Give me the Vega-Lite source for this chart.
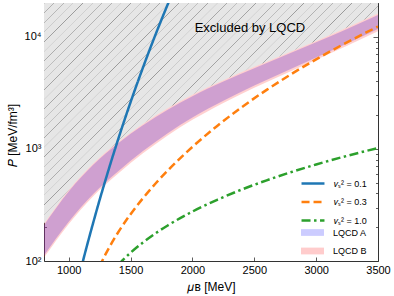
{
  "$schema": "https://vega.github.io/schema/vega-lite/v6.json",
  "width": 334,
  "height": 258,
  "autosize": {"type": "none"},
  "padding": {"left": 44, "top": 3, "right": 16, "bottom": 35},
  "background": "white",
  "config": {
    "font": "Liberation Sans",
    "view": {"stroke": "#333333", "strokeWidth": 1},
    "axis": {"domain": false, "grid": false, "tickColor": "#333333", "tickWidth": 0.8, "labelFont": "Liberation Sans", "labelFontSize": 11, "labelColor": "#000000", "titleFont": "Liberation Sans", "titleFontSize": 12, "titleFontWeight": "normal", "titleColor": "#000000"},
    "legend": {"labelFont": "Liberation Sans", "labelFontSize": 9, "labelColor": "#000000", "labelLimit": 200}
  },
  "datasets": {
    "band": [
      {"mu": 800, "Alo": 112.2, "Ahi": 208.9, "Blo": 107.2, "Bhi": 214.8},
      {"mu": 1000, "Alo": 223.9, "Ahi": 416.9, "Blo": 213.8, "Bhi": 428.6},
      {"mu": 1200, "Alo": 398.1, "Ahi": 724.4, "Blo": 380.2, "Bhi": 744.7},
      {"mu": 1400, "Alo": 631.0, "Ahi": 1122, "Blo": 602.6, "Bhi": 1153},
      {"mu": 1600, "Alo": 955.0, "Ahi": 1622, "Blo": 912.0, "Bhi": 1667},
      {"mu": 1800, "Alo": 1380, "Ahi": 2239, "Blo": 1318, "Bhi": 2302},
      {"mu": 2000, "Alo": 1905, "Ahi": 2951, "Blo": 1819, "Bhi": 3034},
      {"mu": 2250, "Alo": 2692, "Ahi": 3981, "Blo": 2571, "Bhi": 4093},
      {"mu": 2500, "Alo": 3673, "Ahi": 5248, "Blo": 3508, "Bhi": 5395},
      {"mu": 2750, "Alo": 4898, "Ahi": 6839, "Blo": 4678, "Bhi": 7030},
      {"mu": 3000, "Alo": 6531, "Ahi": 8913, "Blo": 6237, "Bhi": 9163},
      {"mu": 3250, "Alo": 8710, "Ahi": 11749, "Blo": 8318, "Bhi": 12078},
      {"mu": 3500, "Alo": 11749, "Ahi": 15668, "Blo": 11220, "Bhi": 16107}
    ],
    "lines": [
      {"series": "𝑣ₛ² = 0.1", "mu": 1100, "P": 86},
      {"series": "𝑣ₛ² = 0.1", "mu": 1115, "P": 100},
      {"series": "𝑣ₛ² = 0.1", "mu": 1150, "P": 140.5},
      {"series": "𝑣ₛ² = 0.1", "mu": 1200, "P": 224},
      {"series": "𝑣ₛ² = 0.1", "mu": 1250, "P": 352},
      {"series": "𝑣ₛ² = 0.1", "mu": 1300, "P": 541},
      {"series": "𝑣ₛ² = 0.1", "mu": 1350, "P": 820},
      {"series": "𝑣ₛ² = 0.1", "mu": 1400, "P": 1223},
      {"series": "𝑣ₛ² = 0.1", "mu": 1450, "P": 1799},
      {"series": "𝑣ₛ² = 0.1", "mu": 1500, "P": 2612},
      {"series": "𝑣ₛ² = 0.1", "mu": 1550, "P": 3747},
      {"series": "𝑣ₛ² = 0.1", "mu": 1600, "P": 5313},
      {"series": "𝑣ₛ² = 0.1", "mu": 1650, "P": 7453},
      {"series": "𝑣ₛ² = 0.1", "mu": 1700, "P": 10350},
      {"series": "𝑣ₛ² = 0.1", "mu": 1750, "P": 14240},
      {"series": "𝑣ₛ² = 0.1", "mu": 1800, "P": 19410},
      {"series": "𝑣ₛ² = 0.1", "mu": 1850, "P": 26230},
      {"series": "𝑣ₛ² = 0.3", "mu": 1250, "P": 89.8},
      {"series": "𝑣ₛ² = 0.3", "mu": 1270, "P": 100},
      {"series": "𝑣ₛ² = 0.3", "mu": 1300, "P": 116.3},
      {"series": "𝑣ₛ² = 0.3", "mu": 1350, "P": 146.4},
      {"series": "𝑣ₛ² = 0.3", "mu": 1400, "P": 180.4},
      {"series": "𝑣ₛ² = 0.3", "mu": 1500, "P": 261.7},
      {"series": "𝑣ₛ² = 0.3", "mu": 1600, "P": 363.3},
      {"series": "𝑣ₛ² = 0.3", "mu": 1700, "P": 488.4},
      {"series": "𝑣ₛ² = 0.3", "mu": 1800, "P": 640.5},
      {"series": "𝑣ₛ² = 0.3", "mu": 1900, "P": 823.6},
      {"series": "𝑣ₛ² = 0.3", "mu": 2000, "P": 1041.8},
      {"series": "𝑣ₛ² = 0.3", "mu": 2200, "P": 1601.7},
      {"series": "𝑣ₛ² = 0.3", "mu": 2400, "P": 2359.5},
      {"series": "𝑣ₛ² = 0.3", "mu": 2600, "P": 3359.5},
      {"series": "𝑣ₛ² = 0.3", "mu": 2800, "P": 4651.8},
      {"series": "𝑣ₛ² = 0.3", "mu": 3000, "P": 6292},
      {"series": "𝑣ₛ² = 0.3", "mu": 3200, "P": 8339},
      {"series": "𝑣ₛ² = 0.3", "mu": 3400, "P": 10862},
      {"series": "𝑣ₛ² = 0.3", "mu": 3500, "P": 12322},
      {"series": "𝑣ₛ² = 1.0", "mu": 1400, "P": 92.4},
      {"series": "𝑣ₛ² = 1.0", "mu": 1430, "P": 100},
      {"series": "𝑣ₛ² = 1.0", "mu": 1500, "P": 118.5},
      {"series": "𝑣ₛ² = 1.0", "mu": 1600, "P": 146.3},
      {"series": "𝑣ₛ² = 1.0", "mu": 1700, "P": 176.0},
      {"series": "𝑣ₛ² = 1.0", "mu": 1800, "P": 207.5},
      {"series": "𝑣ₛ² = 1.0", "mu": 2000, "P": 275.9},
      {"series": "𝑣ₛ² = 1.0", "mu": 2200, "P": 351.5},
      {"series": "𝑣ₛ² = 1.0", "mu": 2400, "P": 434.3},
      {"series": "𝑣ₛ² = 1.0", "mu": 2600, "P": 524.3},
      {"series": "𝑣ₛ² = 1.0", "mu": 2800, "P": 621.4},
      {"series": "𝑣ₛ² = 1.0", "mu": 3000, "P": 725.8},
      {"series": "𝑣ₛ² = 1.0", "mu": 3200, "P": 837.4},
      {"series": "𝑣ₛ² = 1.0", "mu": 3400, "P": 956.2},
      {"series": "𝑣ₛ² = 1.0", "mu": 3500, "P": 1018.3}
    ]
  },
  "layer": [
    {
      "data": {"name": "band"},
      "mark": {"type": "area", "interpolate": "monotone", "clip": true,
        "fill": {"gradient": "linear", "x1": 0, "y1": 0, "x2": 1, "y2": 0.662, "stops": [
          {"offset": 0, "color": "#e6e6e6"}, {"offset": 0.0012, "color": "#9a9a9a"}, {"offset": 0.0024, "color": "#e6e6e6"},
          {"offset": 0.02, "color": "#e6e6e6"}, {"offset": 0.0212, "color": "#9a9a9a"}, {"offset": 0.0224, "color": "#e6e6e6"},
          {"offset": 0.04, "color": "#e6e6e6"}, {"offset": 0.0412, "color": "#9a9a9a"}, {"offset": 0.0424, "color": "#e6e6e6"},
          {"offset": 0.06, "color": "#e6e6e6"}, {"offset": 0.0612, "color": "#9a9a9a"}, {"offset": 0.0624, "color": "#e6e6e6"},
          {"offset": 0.08, "color": "#e6e6e6"}, {"offset": 0.0812, "color": "#9a9a9a"}, {"offset": 0.0824, "color": "#e6e6e6"},
          {"offset": 0.10, "color": "#e6e6e6"}, {"offset": 0.1012, "color": "#9a9a9a"}, {"offset": 0.1024, "color": "#e6e6e6"},
          {"offset": 0.12, "color": "#e6e6e6"}, {"offset": 0.1212, "color": "#9a9a9a"}, {"offset": 0.1224, "color": "#e6e6e6"},
          {"offset": 0.14, "color": "#e6e6e6"}, {"offset": 0.1412, "color": "#9a9a9a"}, {"offset": 0.1424, "color": "#e6e6e6"},
          {"offset": 0.16, "color": "#e6e6e6"}, {"offset": 0.1612, "color": "#9a9a9a"}, {"offset": 0.1624, "color": "#e6e6e6"},
          {"offset": 0.18, "color": "#e6e6e6"}, {"offset": 0.1812, "color": "#9a9a9a"}, {"offset": 0.1824, "color": "#e6e6e6"},
          {"offset": 0.20, "color": "#e6e6e6"}, {"offset": 0.2012, "color": "#9a9a9a"}, {"offset": 0.2024, "color": "#e6e6e6"},
          {"offset": 0.22, "color": "#e6e6e6"}, {"offset": 0.2212, "color": "#9a9a9a"}, {"offset": 0.2224, "color": "#e6e6e6"},
          {"offset": 0.24, "color": "#e6e6e6"}, {"offset": 0.2412, "color": "#9a9a9a"}, {"offset": 0.2424, "color": "#e6e6e6"},
          {"offset": 0.26, "color": "#e6e6e6"}, {"offset": 0.2612, "color": "#9a9a9a"}, {"offset": 0.2624, "color": "#e6e6e6"},
          {"offset": 0.28, "color": "#e6e6e6"}, {"offset": 0.2812, "color": "#9a9a9a"}, {"offset": 0.2824, "color": "#e6e6e6"},
          {"offset": 0.30, "color": "#e6e6e6"}, {"offset": 0.3012, "color": "#9a9a9a"}, {"offset": 0.3024, "color": "#e6e6e6"},
          {"offset": 0.32, "color": "#e6e6e6"}, {"offset": 0.3212, "color": "#9a9a9a"}, {"offset": 0.3224, "color": "#e6e6e6"},
          {"offset": 0.34, "color": "#e6e6e6"}, {"offset": 0.3412, "color": "#9a9a9a"}, {"offset": 0.3424, "color": "#e6e6e6"},
          {"offset": 0.36, "color": "#e6e6e6"}, {"offset": 0.3612, "color": "#9a9a9a"}, {"offset": 0.3624, "color": "#e6e6e6"},
          {"offset": 0.38, "color": "#e6e6e6"}, {"offset": 0.3812, "color": "#9a9a9a"}, {"offset": 0.3824, "color": "#e6e6e6"},
          {"offset": 0.40, "color": "#e6e6e6"}, {"offset": 0.4012, "color": "#9a9a9a"}, {"offset": 0.4024, "color": "#e6e6e6"},
          {"offset": 0.42, "color": "#e6e6e6"}, {"offset": 0.4212, "color": "#9a9a9a"}, {"offset": 0.4224, "color": "#e6e6e6"},
          {"offset": 0.44, "color": "#e6e6e6"}, {"offset": 0.4412, "color": "#9a9a9a"}, {"offset": 0.4424, "color": "#e6e6e6"},
          {"offset": 0.46, "color": "#e6e6e6"}, {"offset": 0.4612, "color": "#9a9a9a"}, {"offset": 0.4624, "color": "#e6e6e6"},
          {"offset": 0.48, "color": "#e6e6e6"}, {"offset": 0.4812, "color": "#9a9a9a"}, {"offset": 0.4824, "color": "#e6e6e6"},
          {"offset": 0.50, "color": "#e6e6e6"}, {"offset": 0.5012, "color": "#9a9a9a"}, {"offset": 0.5024, "color": "#e6e6e6"},
          {"offset": 0.52, "color": "#e6e6e6"}, {"offset": 0.5212, "color": "#9a9a9a"}, {"offset": 0.5224, "color": "#e6e6e6"},
          {"offset": 0.54, "color": "#e6e6e6"}, {"offset": 0.5412, "color": "#9a9a9a"}, {"offset": 0.5424, "color": "#e6e6e6"},
          {"offset": 0.56, "color": "#e6e6e6"}, {"offset": 0.5612, "color": "#9a9a9a"}, {"offset": 0.5624, "color": "#e6e6e6"},
          {"offset": 0.58, "color": "#e6e6e6"}, {"offset": 0.5812, "color": "#9a9a9a"}, {"offset": 0.5824, "color": "#e6e6e6"},
          {"offset": 0.60, "color": "#e6e6e6"}, {"offset": 0.6012, "color": "#9a9a9a"}, {"offset": 0.6024, "color": "#e6e6e6"},
          {"offset": 0.62, "color": "#e6e6e6"}, {"offset": 0.6212, "color": "#9a9a9a"}, {"offset": 0.6224, "color": "#e6e6e6"},
          {"offset": 0.64, "color": "#e6e6e6"}, {"offset": 0.6412, "color": "#9a9a9a"}, {"offset": 0.6424, "color": "#e6e6e6"},
          {"offset": 0.66, "color": "#e6e6e6"}, {"offset": 0.6612, "color": "#9a9a9a"}, {"offset": 0.6624, "color": "#e6e6e6"},
          {"offset": 0.68, "color": "#e6e6e6"}, {"offset": 0.6812, "color": "#9a9a9a"}, {"offset": 0.6824, "color": "#e6e6e6"},
          {"offset": 0.70, "color": "#e6e6e6"}, {"offset": 0.7012, "color": "#9a9a9a"}, {"offset": 0.7024, "color": "#e6e6e6"},
          {"offset": 0.72, "color": "#e6e6e6"}, {"offset": 0.7212, "color": "#9a9a9a"}, {"offset": 0.7224, "color": "#e6e6e6"},
          {"offset": 0.74, "color": "#e6e6e6"}, {"offset": 0.7412, "color": "#9a9a9a"}, {"offset": 0.7424, "color": "#e6e6e6"},
          {"offset": 0.76, "color": "#e6e6e6"}, {"offset": 0.7612, "color": "#9a9a9a"}, {"offset": 0.7624, "color": "#e6e6e6"},
          {"offset": 0.78, "color": "#e6e6e6"}, {"offset": 0.7812, "color": "#9a9a9a"}, {"offset": 0.7824, "color": "#e6e6e6"},
          {"offset": 0.80, "color": "#e6e6e6"}, {"offset": 0.8012, "color": "#9a9a9a"}, {"offset": 0.8024, "color": "#e6e6e6"},
          {"offset": 0.82, "color": "#e6e6e6"}, {"offset": 0.8212, "color": "#9a9a9a"}, {"offset": 0.8224, "color": "#e6e6e6"},
          {"offset": 0.84, "color": "#e6e6e6"}, {"offset": 0.8412, "color": "#9a9a9a"}, {"offset": 0.8424, "color": "#e6e6e6"},
          {"offset": 0.86, "color": "#e6e6e6"}, {"offset": 0.8612, "color": "#9a9a9a"}, {"offset": 0.8624, "color": "#e6e6e6"},
          {"offset": 0.88, "color": "#e6e6e6"}, {"offset": 0.8812, "color": "#9a9a9a"}, {"offset": 0.8824, "color": "#e6e6e6"},
          {"offset": 0.90, "color": "#e6e6e6"}, {"offset": 0.9012, "color": "#9a9a9a"}, {"offset": 0.9024, "color": "#e6e6e6"},
          {"offset": 0.92, "color": "#e6e6e6"}, {"offset": 0.9212, "color": "#9a9a9a"}, {"offset": 0.9224, "color": "#e6e6e6"},
          {"offset": 0.94, "color": "#e6e6e6"}, {"offset": 0.9412, "color": "#9a9a9a"}, {"offset": 0.9424, "color": "#e6e6e6"},
          {"offset": 0.96, "color": "#e6e6e6"}, {"offset": 0.9612, "color": "#9a9a9a"}, {"offset": 0.9624, "color": "#e6e6e6"},
          {"offset": 0.98, "color": "#e6e6e6"}, {"offset": 0.9812, "color": "#9a9a9a"}, {"offset": 0.9824, "color": "#e6e6e6"},
          {"offset": 1, "color": "#e6e6e6"}
        ]}},
      "encoding": {
        "x": {"field": "mu", "type": "quantitative", "scale": {"domain": [800, 3500], "nice": false, "zero": false},
          "axis": {"orient": "bottom", "values": [1000, 1500, 2000, 2500, 3000, 3500], "format": "d", "tickSize": -4, "labelPadding": 7, "labelFlush": false, "title": "𝜇ʙ [MeV]", "titleY": 20, "titleBaseline": "top"}},
        "y": {"field": "Bhi", "type": "quantitative", "scale": {"type": "log", "domain": [100, 20000], "nice": false},
          "axis": {"orient": "left", "values": [100, 200, 300, 400, 500, 600, 700, 800, 900, 1000, 2000, 3000, 4000, 5000, 6000, 7000, 8000, 9000, 10000, 20000],
            "labelExpr": "datum.value == 100 ? '10²' : datum.value == 1000 ? '10³' : datum.value == 10000 ? '10⁴' : ''",
            "tickSize": {"condition": {"test": "datum.value == 100 || datum.value == 1000 || datum.value == 10000", "value": -5}, "value": -2.5},
            "labelPadding": 8, "title": "𝑃 [MeV/fm³]", "titleX": -32, "titleY": 132, "titleBaseline": "middle", "titleAlign": "center", "titleAngle": 270}},
        "y2": {"datum": 20000}
      }
    },
    {
      "data": {"name": "band"},
      "mark": {"type": "area", "interpolate": "monotone", "fillOpacity": 0.3, "clip": true},
      "encoding": {
        "x": {"field": "mu", "type": "quantitative", "axis": null},
        "y": {"field": "Alo", "type": "quantitative", "axis": null},
        "y2": {"field": "Ahi"},
        "fill": {"datum": "LQCD A", "type": "nominal",
          "scale": {"domain": ["LQCD A", "LQCD B"], "range": ["#3333ff", "#ff3333"]},
          "legend": {"orient": "none", "legendX": 253, "legendY": 220, "title": null, "symbolSize": 81, "symbolOffset": 6, "labelOffset": 15,
            "symbolType": "M-2.55,-0.75H2.55V0.75H-2.55Z", "symbolOpacity": 0.25, "padding": 4, "rowPadding": 7.5}}
      }
    },
    {
      "data": {"name": "band"},
      "mark": {"type": "area", "interpolate": "monotone", "fillOpacity": 0.23, "clip": true},
      "encoding": {
        "x": {"field": "mu", "type": "quantitative", "axis": null},
        "y": {"field": "Blo", "type": "quantitative", "axis": null},
        "y2": {"field": "Bhi"},
        "fill": {"datum": "LQCD B", "type": "nominal"}
      }
    },
    {
      "data": {"name": "lines"},
      "mark": {"type": "line", "interpolate": "monotone", "strokeWidth": 2.5, "clip": true},
      "encoding": {
        "x": {"field": "mu", "type": "quantitative", "axis": null},
        "y": {"field": "P", "type": "quantitative", "axis": null},
        "color": {"field": "series", "type": "nominal",
          "scale": {"domain": ["𝑣ₛ² = 0.1", "𝑣ₛ² = 0.3", "𝑣ₛ² = 1.0"], "range": ["#1f77b4", "#ff7f0e", "#2ca02c"]},
          "legend": {"orient": "none", "legendX": 253, "legendY": 170.5, "title": null, "symbolSize": 81, "symbolOffset": 6, "labelOffset": 15,
            "symbolType": "M-2.55,0H2.55", "symbolStrokeWidth": 2.3, "padding": 4, "rowPadding": 7.5}},
        "strokeDash": {"field": "series", "type": "nominal",
          "scale": {"domain": ["𝑣ₛ² = 0.1", "𝑣ₛ² = 0.3", "𝑣ₛ² = 1.0"], "range": [[1, 0], [8, 4], [9, 3.5, 2.5, 3.5]]},
          "legend": {"orient": "none", "legendX": 253, "legendY": 170.5, "title": null, "symbolSize": 81, "symbolOffset": 6, "labelOffset": 15,
            "symbolType": "M-2.55,0H2.55", "symbolStrokeWidth": 2.3, "padding": 4, "rowPadding": 7.5}}
      }
    },
    {
      "data": {"values": [{"label": "Excluded by LQCD"}]},
      "mark": {"type": "text", "fontSize": 13, "font": "Liberation Sans", "color": "#000000", "align": "center", "baseline": "middle"},
      "encoding": {
        "text": {"field": "label"},
        "x": {"datum": 2465, "type": "quantitative",
          "axis": {"orient": "top", "values": [1000, 1500, 2000, 2500, 3000, 3500], "labels": false, "tickSize": -4, "title": null}},
        "y": {"datum": 11970, "type": "quantitative",
          "axis": {"orient": "right", "values": [100, 200, 300, 400, 500, 600, 700, 800, 900, 1000, 2000, 3000, 4000, 5000, 6000, 7000, 8000, 9000, 10000, 20000], "labels": false,
            "tickSize": {"condition": {"test": "datum.value == 100 || datum.value == 1000 || datum.value == 10000", "value": -5}, "value": -2.5}, "title": null}}
      }
    }
  ],
  "resolve": {"axis": {"x": "independent", "y": "independent"}}
}
